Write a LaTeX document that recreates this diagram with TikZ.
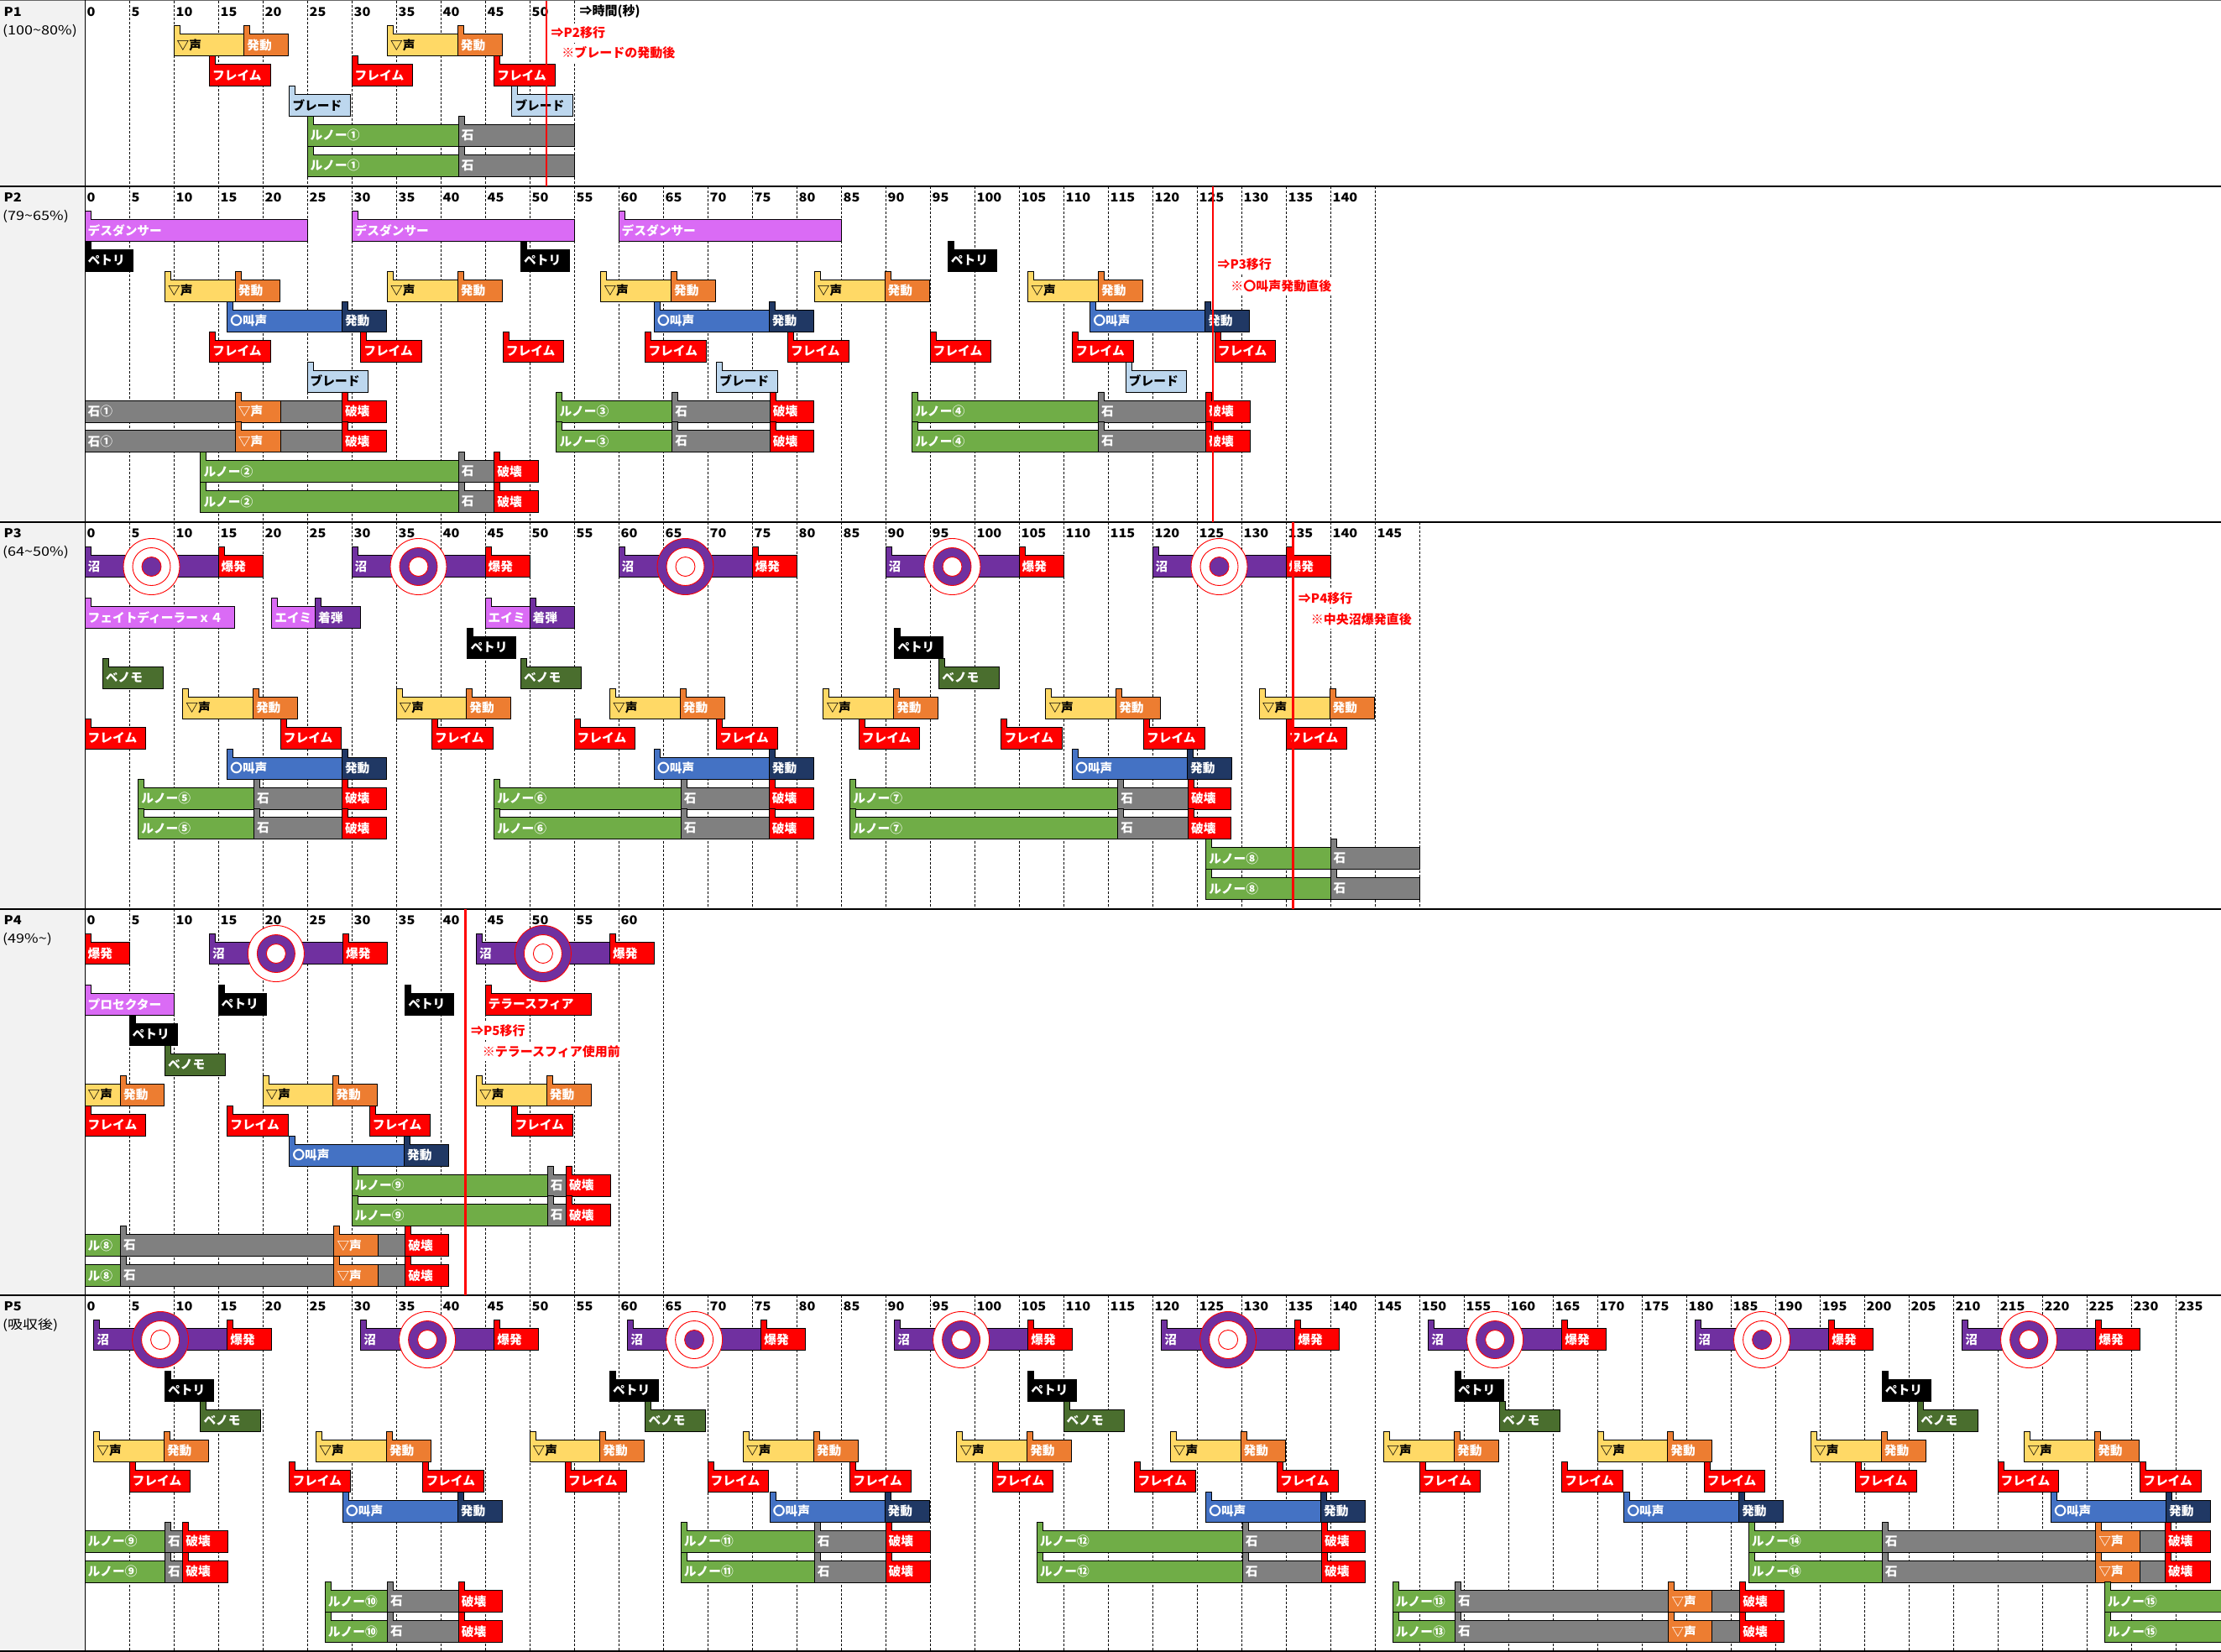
\documentclass[tikz,border=0pt]{standalone}
\usepackage{fontspec}
\setmainfont{Noto Sans CJK JP}
\newfontfamily\numfont{Noto Sans CJK JP}[FakeStretch=1.12]
\newfontfamily\hdfont{Noto Sans CJK JP}[FakeStretch=1.2]
\definecolor{cyel}{HTML}{FFD966}
\definecolor{cora}{HTML}{ED7D31}
\definecolor{cred}{HTML}{FF0000}
\definecolor{cblu}{HTML}{BDD7EE}
\definecolor{cgrn}{HTML}{70AD47}
\definecolor{cgry}{HTML}{808080}
\definecolor{cvio}{HTML}{DA6BF5}
\definecolor{cbl2}{HTML}{4472C4}
\definecolor{cnav}{HTML}{203864}
\definecolor{cpur}{HTML}{7030A0}
\definecolor{cdgr}{HTML}{4A6E2E}
\definecolor{cgbg}{HTML}{F2F2F2}
\tikzset{
 shp/.style={draw=black, line width=0.8pt, line join=miter},
 txt/.style={anchor=west, inner sep=0pt, xshift=3.5pt, font=\fontsize{14.7}{14.7}\selectfont\bfseries},
 num/.style={anchor=west, inner sep=0pt, xshift=2.5pt, font=\numfont\fontsize{14.5}{14.5}\selectfont\bfseries},
 hd/.style={anchor=west, inner sep=0pt, font=\numfont\fontsize{14.5}{14.5}\selectfont\bfseries},
 hdb/.style={anchor=west, inner sep=0pt, font=\hdfont\fontsize{15}{15}\selectfont},
 gridln/.style={line width=0.8pt, dash pattern=on 3pt off 2pt},
 ann/.style={anchor=west, fill=white, inner xsep=1pt, inner ysep=4pt, font=\fontsize{15}{15}\selectfont\bfseries},
 redln/.style={draw=cred, line width=2.5pt},
 sep/.style={line width=1.4pt},
}
\newcounter{nn}
% flag box: [text colour]{fill}{t0}{t1}{row y}{text}
\newcommand\xfb[6][white]{%
 \filldraw[shp, fill=#2] ({#3},{#5}) -- ({#3+0.66},{#5}) -- ({#3+0.66},{#5+10}) -- ({#4},{#5+10}) -- ({#4},{#5+36}) -- ({#3},{#5+36}) -- cycle;
 \stepcounter{nn}\node[txt, text=#1] (n\arabic{nn}) at ({#3},{#5+23}) {#6};}
% plain box without tab
\newcommand\xrb[6][white]{%
 \filldraw[shp, fill=#2] ({#3},{#5+10}) rectangle ({#4},{#5+36});
 \stepcounter{nn}\node[txt, text=#1] (n\arabic{nn}) at ({#3},{#5+23}) {#6};}
\newcommand\xvc[2]{\xfb[black]{cyel}{#1}{#1+7.9}{#2}{▽声}\xfb{cora}{#1+7.9}{#1+12.9}{#2}{発動}}
\newcommand\xkyo[2]{\xfb{cbl2}{#1}{#1+12.9}{#2}{〇叫声}\xfb{cnav}{#1+12.9}{#1+17.9}{#2}{発動}}
\newcommand\xfl[2]{\xfb{cred}{#1}{#1+6.85}{#2}{フレイム}}
\newcommand\xbl[2]{\xfb[black]{cblu}{#1}{#1+6.85}{#2}{ブレード}}
\newcommand\xpetri[2]{\xfb{black}{#1}{#1+5.45}{#2}{ペトリ}}
\newcommand\xbeno[2]{\xfb{cdgr}{#1}{#1+6.8}{#2}{ベノモ}}
\newcommand\xring[5]{%
 \filldraw[fill=#3, draw=cred, line width=0.9pt] ({#1},{#2+23.5}) circle[radius=33.5pt];
 \filldraw[fill=#4, draw=cred, line width=0.9pt] ({#1},{#2+23.5}) circle[radius=22.5pt];
 \filldraw[fill=#5, draw=cred, line width=0.9pt] ({#1},{#2+23.5}) circle[radius=11.5pt];}
\newcommand\xrA[2]{\xring{#1}{#2}{white}{white}{cpur}}
\newcommand\xrB[2]{\xring{#1}{#2}{white}{cpur}{white}}
\newcommand\xrC[2]{\xring{#1}{#2}{cpur}{white}{white}}
\newcommand\xswamp[3]{\xfb{cpur}{#1}{#1+15}{#2}{沼}\xfb{cred}{#1+15}{#1+20}{#2}{爆発}#3{#1+7.5}{#2}}
\begin{document}
\begin{tikzpicture}[x=10.6pt, y=-1pt]
\useasboundingbox (-9.5283,0) rectangle (240.0943,1968);
\fill[white] (-9.5283,0) rectangle (240.0943,1968);
\fill[cgbg] (-9.5283,0) rectangle (0,1968);
% grids
\foreach \t in {5,10,...,55} \draw[gridln] (\t,1) -- (\t,222);
\foreach \t in {5,10,...,145} \draw[gridln] (\t,222) -- (\t,622);
\foreach \t in {5,10,...,150} \draw[gridln] (\t,622) -- (\t,1083);
\foreach \t in {5,10,...,65} \draw[gridln] (\t,1083) -- (\t,1543);
\foreach \t in {5,10,...,235} \draw[gridln] (\t,1543) -- (\t,1967);
% frame lines
\draw[line width=0.8pt, black!60] (-9.5283,0.5) -- (240.0943,0.5);
\draw[sep] (-9.5283,222) -- (240.0943,222);
\draw[sep] (-9.5283,622) -- (240.0943,622);
\draw[sep] (-9.5283,1083) -- (240.0943,1083);
\draw[sep] (-9.5283,1543) -- (240.0943,1543);
\draw[line width=2pt] (-9.5283,1967) -- (240.0943,1967);
\draw[line width=1pt] (0,0) -- (0,1968);
% number labels
\foreach \t in {0,5,...,50} \node[num] (la\t) at (\t,14) {\t};
\foreach \t in {0,5,...,140} \node[num] (lb\t) at (\t,235) {\t};
\foreach \t in {0,5,...,145} \node[num] (lc\t) at (\t,635) {\t};
\foreach \t in {0,5,...,60} \node[num] (ld\t) at (\t,1096) {\t};
\foreach \t in {0,5,...,235} \node[num] (le\t) at (\t,1556) {\t};
% headers
\node[hd] (h1) at (-9.1,14) {P1};
\node[hdb] (h1b) at (-9.25,37) {(100\textasciitilde80\%)};
\node[hd] (h2) at (-9.1,235) {P2};
\node[hdb] (h2b) at (-9.25,258) {(79\textasciitilde65\%)};
\node[hd] (h3) at (-9.1,635) {P3};
\node[hdb] (h3b) at (-9.25,658) {(64\textasciitilde50\%)};
\node[hd] (h4) at (-9.1,1096) {P4};
\node[hdb] (h4b) at (-9.25,1119) {(49\%\textasciitilde)};
\node[hd] (h5) at (-9.1,1556) {P5};
\node[hdb] (h5b) at (-9.25,1579) {(吸収後)};
%%%%%%%%%% P1
\xvc{10}{30.5} \xvc{34}{30.5}
\xfl{14}{66.4} \xfl{30}{66.4} \xfl{46}{66.4}
\xbl{23}{102.3} \xbl{48}{102.3}
\foreach \Y in {138.2,174.1} {\xfb{cgrn}{25}{42}{\Y}{ルノー①}\xfb{cgry}{42}{55}{\Y}{石}}
%%%%%%%%%% P2
\xfb{cvio}{0}{25}{251.5}{デスダンサー}
\xfb{cvio}{30}{55}{251.5}{デスダンサー}
\xfb{cvio}{60}{85}{251.5}{デスダンサー}
\xpetri{0}{287.4} \xpetri{49}{287.4} \xpetri{97}{287.4}
\foreach \t in {9,34,58,82,106} {\xvc{\t}{323.3}}
\foreach \t in {16,64,113} {\xkyo{\t}{359.2}}
\foreach \t in {14,31,47,63,79,95,111,127} {\xfl{\t}{395.1}}
\foreach \t in {25,71,117} {\xbl{\t}{431}}
\foreach \Y in {466.9,502.8} {%
 \xrb{cgry}{0}{28.9}{\Y}{石①}\xfb{cora}{16.9}{22}{\Y}{▽声}\xfb{cred}{28.9}{33.9}{\Y}{破壊}
 \xfb{cgrn}{53}{66}{\Y}{ルノー③}\xfb{cgry}{66}{77}{\Y}{石}\xfb{cred}{77}{81.9}{\Y}{破壊}
 \xfb{cgrn}{93}{113.9}{\Y}{ルノー④}\xfb{cgry}{113.9}{126}{\Y}{石}\xfb{cred}{126}{131}{\Y}{破壊}}
\foreach \Y in {538.7,574.6} {%
 \xfb{cgrn}{13}{42}{\Y}{ルノー②}\xfb{cgry}{42}{46}{\Y}{石}\xfb{cred}{46}{51}{\Y}{破壊}}
%%%%%%%%%% P3
\xswamp{0}{651.5}{\xrA} \xswamp{30}{651.5}{\xrB} \xswamp{60}{651.5}{\xrC} \xswamp{90}{651.5}{\xrB} \xswamp{120}{651.5}{\xrA}
\xfb{cvio}{0}{16.8}{712.5}{フェイトディーラーｘ４}
\xfb{cvio}{21}{25.9}{712.5}{エイミ}\xfb{cpur}{25.9}{31}{712.5}{着弾}
\xfb{cvio}{45}{50}{712.5}{エイミ}\xfb{cpur}{50}{55}{712.5}{着弾}
\xpetri{43}{748.4} \xpetri{91}{748.4}
\xbeno{2}{784.3} \xbeno{49}{784.3} \xbeno{96}{784.3}
\foreach \t in {11,35,59,83,108,132} {\xvc{\t}{820.2}}
\foreach \t in {0,22,39,55,71,87,103,119,135} {\xfl{\t}{856.1}}
\foreach \t in {16,64,111} {\xkyo{\t}{892}}
\foreach \Y in {927.9,963.8} {%
 \xfb{cgrn}{6}{19}{\Y}{ルノー⑤}\xfb{cgry}{19}{28.9}{\Y}{石}\xfb{cred}{28.9}{33.9}{\Y}{破壊}
 \xfb{cgrn}{46}{67}{\Y}{ルノー⑥}\xfb{cgry}{67}{76.9}{\Y}{石}\xfb{cred}{76.9}{81.9}{\Y}{破壊}
 \xfb{cgrn}{86}{116.1}{\Y}{ルノー⑦}\xfb{cgry}{116.1}{124}{\Y}{石}\xfb{cred}{124}{128.8}{\Y}{破壊}}
\foreach \Y in {999.7,1035.6} {\xfb{cgrn}{126}{140}{\Y}{ルノー⑧}\xfb{cgry}{140}{150}{\Y}{石}}
%%%%%%%%%% P4
\xfb{cred}{0}{5}{1112.5}{爆発}
\xswamp{14}{1112.5}{\xrB} \xswamp{44}{1112.5}{\xrC}
\xfb{cvio}{0}{10.06}{1173.5}{プロセクター}
\xpetri{15}{1173.5} \xpetri{36}{1173.5}
\xfb{cred}{45}{56.9}{1173.5}{テラースフィア}
\xpetri{5}{1209.4}
\xbeno{9}{1245.3}
\xrb[black]{cyel}{0}{4}{1281.2}{▽声}\xfb{cora}{4}{8.9}{1281.2}{発動}
\xvc{20}{1281.2} \xvc{44}{1281.2}
\foreach \t in {0,16,32,48} {\xfl{\t}{1317.1}}
\xkyo{23}{1353}
\foreach \Y in {1388.9,1424.8} {\xfb{cgrn}{30}{52}{\Y}{ルノー⑨}\xfb{cgry}{52}{54.1}{\Y}{石}\xfb{cred}{54.1}{59.1}{\Y}{破壊}}
\foreach \Y in {1460.7,1496.6} {\xrb{cgrn}{0}{4}{\Y}{ル⑧}\xfb{cgry}{4}{36}{\Y}{石}\xfb{cora}{28}{33}{\Y}{▽声}\xfb{cred}{36}{40.9}{\Y}{破壊}}
%%%%%%%%%% P5
\xswamp{1}{1572.5}{\xrC} \xswamp{31}{1572.5}{\xrB} \xswamp{61}{1572.5}{\xrA} \xswamp{91}{1572.5}{\xrB}
\xswamp{121}{1572.5}{\xrC} \xswamp{151}{1572.5}{\xrB} \xswamp{181}{1572.5}{\xrA} \xswamp{211}{1572.5}{\xrB}
\foreach \t in {9,59,106,154,202} {\xpetri{\t}{1633.5}}
\foreach \t in {13,63,110,159,206} {\xbeno{\t}{1669.4}}
\foreach \t in {1,26,50,74,98,122,146,170,194,218} {\xvc{\t}{1705.3}}
\foreach \t in {5,23,38,54,70,86,102,118,134,150,166,182,199,215,231} {\xfl{\t}{1741.2}}
\foreach \t in {29,77,126,173,221} {\xkyo{\t}{1777.1}}
\foreach \Y in {1813,1848.9} {%
 \xrb{cgrn}{0}{9}{\Y}{ルノー⑨}\xfb{cgry}{9}{11}{\Y}{石}\xfb{cred}{11}{16.1}{\Y}{破壊}
 \xfb{cgrn}{67}{82}{\Y}{ルノー⑪}\xfb{cgry}{82}{90}{\Y}{石}\xfb{cred}{90}{95}{\Y}{破壊}
 \xfb{cgrn}{107}{130.1}{\Y}{ルノー⑫}\xfb{cgry}{130.1}{139}{\Y}{石}\xfb{cred}{139}{143.9}{\Y}{破壊}
 \xfb{cgrn}{187}{202}{\Y}{ルノー⑭}\xfb{cgry}{202}{233.8}{\Y}{石}\xfb{cora}{226}{231}{\Y}{▽声}\xfb{cred}{233.8}{238.9}{\Y}{破壊}}
\foreach \Y in {1884.8,1920.7} {%
 \xfb{cgrn}{27}{34}{\Y}{ルノー⑩}\xfb{cgry}{34}{42}{\Y}{石}\xfb{cred}{42}{46.9}{\Y}{破壊}
 \xfb{cgrn}{147}{154}{\Y}{ルノー⑬}\xfb{cgry}{154}{186}{\Y}{石}\xfb{cora}{178}{182.9}{\Y}{▽声}\xfb{cred}{186}{191}{\Y}{破壊}
 \xfb{cgrn}{227}{240.3}{\Y}{ルノー⑮}}
%%%%%%%%%% annotations
\node[ann] (an0) at (55.5,14) {⇒時間(秒)};
\node[ann, text=cred] (an1) at (52.3,39) {⇒P2移行};
\node[ann, text=cred] (an2) at (53.5,63) {※ブレードの発動後};
\node[ann, text=cred] (an3) at (127.2,315) {⇒P3移行};
\node[ann, text=cred] (an4) at (128.7,341) {※〇叫声発動直後};
\node[ann, text=cred] (an5) at (136.3,713) {⇒P4移行};
\node[ann, text=cred] (an6) at (137.7,738) {※中央沼爆発直後};
\node[ann, text=cred] (an7) at (43.3,1228) {⇒P5移行};
\node[ann, text=cred] (an8) at (44.6,1253) {※テラースフィア使用前};
%%%%%%%%%% phase change lines
\coordinate (ra1) at (51.9,1); \coordinate (rb1) at (51.9,222);
\coordinate (ra2) at (126.8,222); \coordinate (rb2) at (126.8,622);
\coordinate (ra3) at (135.8,622); \coordinate (rb3) at (135.8,1083);
\coordinate (ra4) at (42.8,1083); \coordinate (rb4) at (42.8,1543);
\draw[redln] (ra1) -- (rb1);
\draw[redln] (ra2) -- (rb2);
\draw[redln] (ra3) -- (rb3);
\draw[redln] (ra4) -- (rb4);
\end{tikzpicture}
\end{document}
